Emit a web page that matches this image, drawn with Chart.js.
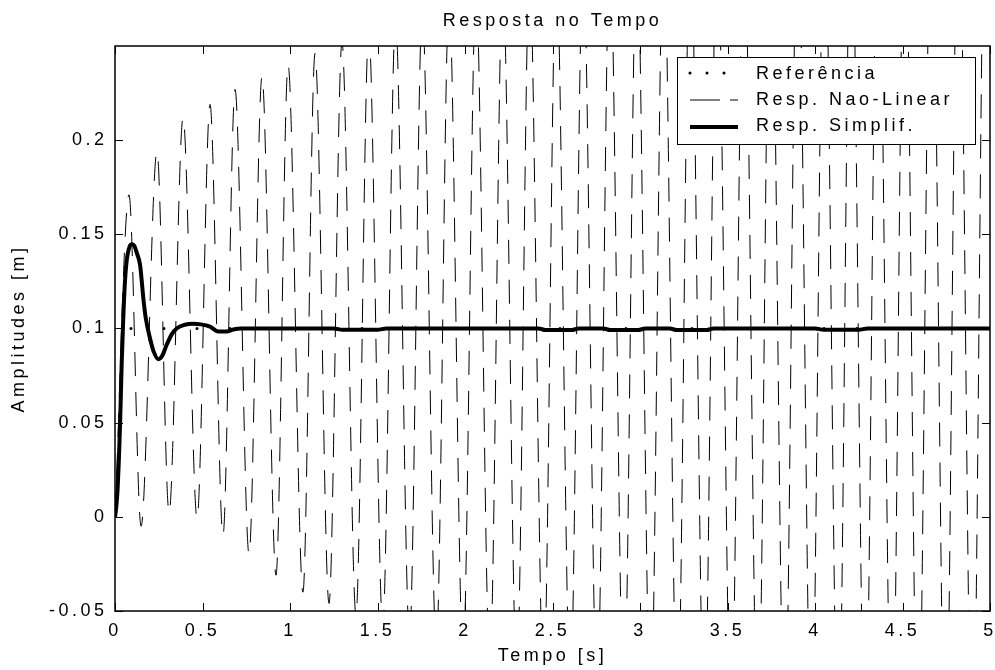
<!DOCTYPE html>
<html>
<head>
<meta charset="utf-8">
<script src="https://cdn.jsdelivr.net/npm/chart.js@4.4.1/dist/chart.umd.min.js"></script>
<style>
  html, body { margin: 0; padding: 0; background: #fff; }
  #box { width: 995px; height: 670px; }
</style>
</head>
<body>
<div id="box"><canvas id="respostaChart"></canvas></div>
<script>
// Eixos
const xTicks = [0, 0.5, 1, 1.5, 2, 2.5, 3, 3.5, 4, 4.5, 5];
const yTicks = [-0.05, 0, 0.05, 0.1, 0.15, 0.2];

// Referencia (degrau)
const refT = [0, 5];
const refV = [0.1, 0.1];

// Resp. Nao-Linear: picos e vales
const picosT = [0.080, 0.240, 0.389, 0.543, 0.686, 0.840, 0.989, 1.143, 1.297, 1.450, 1.603,
  1.756, 1.909, 2.063, 2.216, 2.369, 2.522, 2.675, 2.828, 2.982, 3.135, 3.288, 3.441,
  3.594, 3.747, 3.901, 4.054, 4.207, 4.360, 4.513, 4.666, 4.820, 4.974];
const picosV = [0.171, 0.194, 0.212, 0.219, 0.227, 0.234, 0.240, 0.246, 0.252, 0.258, 0.264,
  0.269, 0.274, 0.279, 0.284, 0.288, 0.292, 0.296, 0.300, 0.304, 0.308, 0.312, 0.315,
  0.318, 0.321, 0.324, 0.327, 0.330, 0.333, 0.336, 0.339, 0.342, 0.345];
const valesT = [0.149, 0.309, 0.469, 0.617, 0.766, 0.920, 1.074, 1.223, 1.377, 1.530, 1.683,
  1.836, 1.989, 2.142, 2.296, 2.449, 2.602, 2.755, 2.908, 3.061, 3.214, 3.368, 3.521,
  3.674, 3.827, 3.980, 4.133, 4.287, 4.440, 4.589, 4.746, 4.900, 5.053];
const valesV = [-0.005, 0.002, -0.001, -0.010, -0.020, -0.031, -0.040, -0.046, -0.052, -0.058, -0.064,
  -0.069, -0.074, -0.079, -0.084, -0.088, -0.092, -0.096, -0.100, -0.104, -0.108, -0.112, -0.115,
  -0.118, -0.121, -0.124, -0.127, -0.130, -0.133, -0.136, -0.139, -0.142, -0.145];

// Resp. Simplif.
const simpT = [0, 0.008, 0.015, 0.022, 0.029, 0.038, 0.047, 0.057, 0.068, 0.080, 0.090, 0.099,
  0.110, 0.125, 0.143, 0.152, 0.162, 0.175, 0.200, 0.220, 0.248, 0.270, 0.295, 0.325, 0.352,
  0.400, 0.444, 0.490, 0.543, 0.590, 0.638, 0.676, 0.720, 0.780, 1.25, 1.30, 1.50, 1.55,
  2.42, 2.46, 2.61, 2.65, 2.79, 2.83, 2.99, 3.03, 3.17, 3.21, 3.38, 3.42, 4.00, 4.05, 4.25, 4.30, 5.0];
const simpV = [0, 0.006, 0.015, 0.030, 0.049, 0.0807, 0.105, 0.125, 0.137, 0.1425, 0.1445, 0.1448,
  0.144, 0.140, 0.134, 0.126, 0.116, 0.106, 0.0948, 0.088, 0.0837, 0.0855, 0.0913, 0.097, 0.100,
  0.102, 0.1025, 0.1022, 0.101, 0.0984, 0.0984, 0.0995, 0.1, 0.1, 0.1, 0.0993, 0.0993, 0.1,
  0.1, 0.0992, 0.0992, 0.1, 0.1, 0.0992, 0.0992, 0.1, 0.1, 0.0992, 0.0992, 0.1, 0.1, 0.0993, 0.0993, 0.1, 0.1];

const legendas = ['Referência', 'Resp. Nao-Linear', 'Resp. Simplif.'];
const fonte = '"Liberation Sans", Arial, sans-serif';

// monta os pontos
const pontos = (ts, vs) => ts.map((t, i) => ({ x: t, y: vs[i] }));
const naoLinear = [{ x: 0, y: 0 }];
picosT.forEach((t, i) => {
  naoLinear.push({ x: t, y: picosV[i] });
  naoLinear.push({ x: valesT[i], y: valesV[i] });
});

// espacamento das letras (como no MATLAB)
const espaco = {
  id: 'espaco',
  beforeDraw(chart) {
    chart.ctx.letterSpacing = '3.5px';
  }
};

// moldura e ticks para dentro
const moldura = {
  id: 'moldura',
  afterDatasetsDraw(chart) {
    const { ctx, chartArea: a, scales: { x, y } } = chart;
    ctx.save();
    ctx.strokeStyle = '#000';
    ctx.lineWidth = 1;
    ctx.beginPath();
    xTicks.forEach(v => {
      const px = Math.round(x.getPixelForValue(v)) + 0.5;
      ctx.moveTo(px, a.bottom); ctx.lineTo(px, a.bottom - 8);
      ctx.moveTo(px, a.top); ctx.lineTo(px, a.top + 8);
    });
    yTicks.forEach(v => {
      const py = Math.round(y.getPixelForValue(v)) + 0.5;
      ctx.moveTo(a.left, py); ctx.lineTo(a.left + 8, py);
      ctx.moveTo(a.right, py); ctx.lineTo(a.right - 8, py);
    });
    ctx.stroke();
    ctx.lineWidth = 1.5;
    ctx.strokeRect(a.left, a.top, a.right - a.left, a.bottom - a.top);
    ctx.restore();
  }
};

// legenda desenhada a mao (amostras tracejadas)
const legenda = {
  id: 'legenda',
  afterDraw(chart) {
    const ctx = chart.ctx;
    ctx.save();
    ctx.fillStyle = '#fff';
    ctx.fillRect(677, 57, 298, 87);
    ctx.strokeStyle = '#000';
    ctx.lineWidth = 1;
    ctx.strokeRect(677.5, 57.5, 298, 87);

    // pontos
    ctx.lineCap = 'round';
    ctx.lineWidth = 3;
    ctx.setLineDash([0, 17]);
    ctx.beginPath(); ctx.moveTo(690, 73); ctx.lineTo(738, 73); ctx.stroke();
    // tracejado
    ctx.lineCap = 'butt';
    ctx.lineWidth = 1;
    ctx.setLineDash([30, 10]);
    ctx.beginPath(); ctx.moveTo(690, 100); ctx.lineTo(738, 100); ctx.stroke();
    // grosso
    ctx.lineWidth = 4;
    ctx.setLineDash([]);
    ctx.beginPath(); ctx.moveTo(690, 127); ctx.lineTo(738, 127); ctx.stroke();

    ctx.fillStyle = '#000';
    ctx.font = '18px ' + fonte;
    ctx.textBaseline = 'alphabetic';
    ctx.textAlign = 'left';
    ctx.fillText(legendas[0], 756, 79);
    ctx.fillText(legendas[1], 756, 105);
    ctx.fillText(legendas[2], 756, 131);
    ctx.restore();
  }
};

const ctx = document.getElementById('respostaChart').getContext('2d');
new Chart(ctx, {
  type: 'line',
  data: {
    datasets: [
      {
        label: legendas[2],
        data: pontos(simpT, simpV),
        borderColor: '#000',
        borderWidth: 4,
        cubicInterpolationMode: 'monotone',
        pointRadius: 0,
        clip: 0
      },
      {
        label: legendas[0],
        data: pontos(refT, refV),
        borderColor: '#000',
        borderWidth: 3,
        borderCapStyle: 'round',
        borderDash: [0, 33],
        borderDashOffset: 17,
        pointRadius: 0,
        clip: 0
      },
      {
        label: legendas[1],
        data: naoLinear,
        borderColor: '#000',
        borderWidth: 1,
        borderDash: [24, 16],
        cubicInterpolationMode: 'monotone',
        pointRadius: 0,
        clip: 0
      }
    ]
  },
  options: {
    responsive: true,
    maintainAspectRatio: false,
    devicePixelRatio: 1,
    animation: false,
    layout: { padding: { left: 0, right: 5, top: 0, bottom: 0 } },
    scales: {
      x: {
        type: 'linear',
        min: 0,
        max: 5,
        afterBuildTicks: s => { s.ticks = xTicks.map(v => ({ value: v })); },
        afterFit: s => { s.height = 59; s.paddingLeft = 0; s.paddingRight = 0; },
        grid: { display: false, drawTicks: false },
        border: { display: false },
        ticks: {
          autoSkip: false,
          maxRotation: 0,
          padding: 9,
          color: '#000',
          font: { family: fonte, size: 18 },
          callback: v => String(v)
        },
        title: {
          display: true,
          text: 'Tempo [s]',
          color: '#000',
          font: { family: fonte, size: 18 },
          padding: { top: 0, bottom: 3 }
        }
      },
      y: {
        min: -0.05,
        max: 0.25,
        afterBuildTicks: s => { s.ticks = yTicks.map(v => ({ value: v })); },
        afterFit: s => { s.width = 115; s.paddingTop = 0; s.paddingBottom = 0; },
        grid: { display: false, drawTicks: false },
        border: { display: false },
        ticks: {
          padding: 7.5,
          color: '#000',
          font: { family: fonte, size: 18 },
          callback: v => String(v)
        },
        title: {
          display: true,
          text: 'Amplitudes [m]',
          color: '#000',
          font: { family: fonte, size: 18 },
          padding: { top: 8, bottom: 0 }
        }
      }
    },
    plugins: {
      legend: { display: false },
      tooltip: { enabled: false },
      title: {
        display: true,
        text: 'Resposta no Tempo',
        color: '#000',
        fullSize: false,
        font: { family: fonte, size: 18, weight: 'normal' },
        padding: { top: 10, bottom: 14.4 }
      }
    }
  },
  plugins: [espaco, moldura, legenda]
});
</script>
</body>
</html>
